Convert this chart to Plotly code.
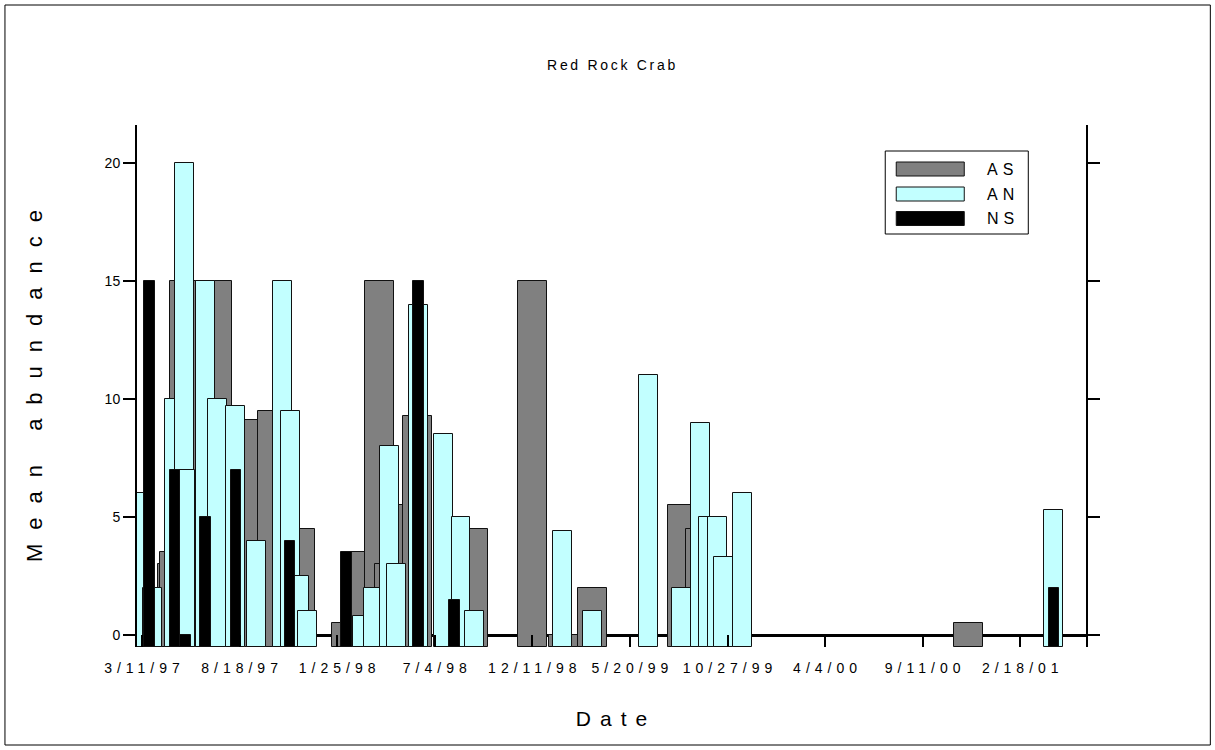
import plotly.graph_objects as go
from datetime import datetime, timedelta

# ---------------- data ----------------
as_dates = ["1997-04-30", "1997-05-03", "1997-05-20", "1997-07-13", "1997-09-20",
            "1997-10-11", "1997-11-26", "1998-02-09", "1998-02-28", "1998-04-04",
            "1998-04-21", "1998-05-07", "1998-06-06", "1998-09-05", "1998-12-12",
            "1999-01-31", "1999-03-20", "1999-08-14", "1999-09-13", "2000-11-25"]
as_values = [3.0, 3.5, 15.0, 15.0, 9.1,
             9.5, 4.5, 0.5, 3.5, 15.0,
             3.0, 5.5, 9.3, 4.5, 15.0,
             0.0, 2.0, 5.5, 4.5, 0.5]

an_dates = ["1997-03-07", "1997-03-28", "1997-05-03", "1997-05-20", "1997-05-21",
            "1997-06-23", "1997-07-13", "1997-08-11", "1997-09-15", "1997-10-27",
            "1997-11-09", "1997-11-25", "1997-12-08", "1998-03-08", "1998-03-25",
            "1998-04-21", "1998-05-03", "1998-06-07", "1998-07-19", "1998-08-16",
            "1998-09-07", "1999-01-30", "1999-03-20", "1999-06-20", "1999-08-13",
            "1999-09-13", "1999-09-26", "1999-10-10", "1999-10-21", "1999-11-21",
            "2001-04-14"]
an_values = [6.0, 2.0, 10.0, 20.0, 7.0,
             15.0, 10.0, 9.7, 4.0, 15.0,
             9.5, 2.5, 1.0, 0.8, 2.0,
             8.0, 3.0, 14.0, 8.5, 5.0,
             1.0, 4.4, 1.0, 11.0, 2.0,
             9.0, 5.0, 5.0, 3.3, 6.0,
             5.3]

ns_dates = ["1997-03-23", "1997-05-04", "1997-05-21", "1997-06-23", "1997-08-12",
            "1997-11-09", "1998-02-09", "1998-06-07", "1998-08-05", "2001-04-14"]
ns_values = [15.0, 7.0, 0.0, 5.0, 7.0,
             4.0, 3.5, 15.0, 1.5, 2.0]

tick_dates = ["1997-03-11", "1997-08-18", "1998-01-25", "1998-07-04", "1998-12-11",
              "1999-05-20", "1999-10-27", "2000-04-04", "2000-09-11", "2001-02-18"]
tick_labels = ["3/11/97", "8/18/97", "1/25/98", "7/4/98", "12/11/98",
               "5/20/99", "10/27/99", "4/4/00", "9/11/00", "2/18/01"]
y_ticks = [0, 5, 10, 15, 20]
series_names = ["AS", "AN", "NS"]

# ---------------- styling / geometry ----------------
W, H = 1215, 750
L, R, T, B = 137, 1085.7, 125, 647          # plot area in pixels
BASE = -0.508                                # bars start at the bottom of the frame
Y_TOP = 21.61
DAY_MS = 86400000
t0 = datetime(1997, 3, 11)
x_range = [t0 - timedelta(days=8.2), t0 + timedelta(days=1547.8)]

FONT = "Arial, Liberation Sans, sans-serif"
GRAY, CYAN, BLACK = "#808080", "#C2FFFF", "#000000"


def spaced(text, px):
    # letter spacing between glyphs (no trailing gap after the last glyph)
    return f'<span style="letter-spacing:{px}px">{text[:-1]}</span>{text[-1]}'


def px_x(px):
    return (px - L) / (R - L)


def px_y(py):
    return (B - py) / (B - T)


def bars(dates, values, name, color, width_days):
    return go.Bar(
        x=dates, y=[v - BASE for v in values], base=BASE, name=name,
        width=width_days * DAY_MS,
        marker=dict(color=color, line=dict(color="#111111", width=1)),
        showlegend=False, customdata=values,
        hovertemplate="%{x}<br>%{customdata}<extra>" + name + "</extra>",
    )


fig = go.Figure()
fig.add_trace(bars(as_dates, as_values, series_names[0], GRAY, 47.5))
fig.add_trace(bars(an_dates, an_values, series_names[1], CYAN, 31.0))
fig.add_trace(bars(ns_dates, ns_values, series_names[2], BLACK, 17.2))

fig.update_layout(
    width=W, height=H,
    margin=dict(l=L, r=W - R, t=T, b=H - B, pad=0),
    paper_bgcolor="white", plot_bgcolor="white",
    barmode="overlay", bargap=0,
    font=dict(family=FONT, color="black", size=14),
    title=dict(text=spaced("Red Rock Crab", 2.7), x=px_x(611), xref="paper",
               xanchor="center", y=1 - 65 / H, yref="container", yanchor="middle",
               font=dict(size=14, family=FONT)),
    xaxis=dict(type="date", range=x_range, tickvals=tick_dates,
               ticktext=[spaced(t, 5) for t in tick_labels],
               ticks="inside", ticklen=12, tickwidth=1.5, tickcolor="black",
               ticklabelstandoff=11,
               showline=False, showgrid=False, zeroline=False,
               tickfont=dict(size=14, family=FONT),
               title=dict(text=spaced("Date", 9), font=dict(size=21, family=FONT), standoff=36)),
    xaxis2=dict(type="date", overlaying="x", side="top", anchor="y", range=x_range,
                tickvals=tick_dates, ticks="outside", ticklen=12, tickwidth=1.5,
                tickcolor="black", showline=True, linewidth=2, linecolor="black",
                showticklabels=False, showgrid=False, zeroline=False),
    yaxis=dict(range=[BASE, Y_TOP], tickvals=y_ticks, ticks="outside", ticklen=12,
               tickwidth=1.5, tickcolor="black", showline=True, linewidth=2,
               linecolor="black", mirror="ticks", showgrid=False,
               zeroline=True, zerolinewidth=3, zerolinecolor="black",
               tickfont=dict(size=14, family=FONT),
               title=dict(text=spaced("Mean abundance", 14), font=dict(size=22, family=FONT), standoff=56)),
)

shapes = []
# outer frame
shapes.append(dict(type="rect", xref="paper", yref="paper",
                   x0=px_x(5), x1=px_x(1210), y0=px_y(745), y1=px_y(5),
                   line=dict(color="black", width=1)))
# legend box
shapes.append(dict(type="rect", xref="paper", yref="paper",
                   x0=px_x(885), x1=px_x(1028), y0=px_y(234), y1=px_y(151),
                   line=dict(color="black", width=1), fillcolor="white"))
legend_rows = [(series_names[0], GRAY, 169), (series_names[1], CYAN, 194), (series_names[2], BLACK, 218.5)]
annotations = []
for name, col, cy in legend_rows:
    shapes.append(dict(type="rect", xref="paper", yref="paper",
                       x0=px_x(896), x1=px_x(964), y0=px_y(cy + 7), y1=px_y(cy - 7),
                       line=dict(color="#111111", width=1), fillcolor=col))
    annotations.append(dict(text=spaced(name, 5), xref="paper", yref="paper",
                            x=px_x(985), y=px_y(cy), xanchor="left", yanchor="middle",
                            showarrow=False, font=dict(size=16, family=FONT)))
fig.update_layout(shapes=shapes, annotations=annotations)

fig.write_html("out.html",
               config={"displayModeBar": False},
               post_script="document.body.style.margin='0px';"
                           "document.documentElement.style.overflow='hidden';")
